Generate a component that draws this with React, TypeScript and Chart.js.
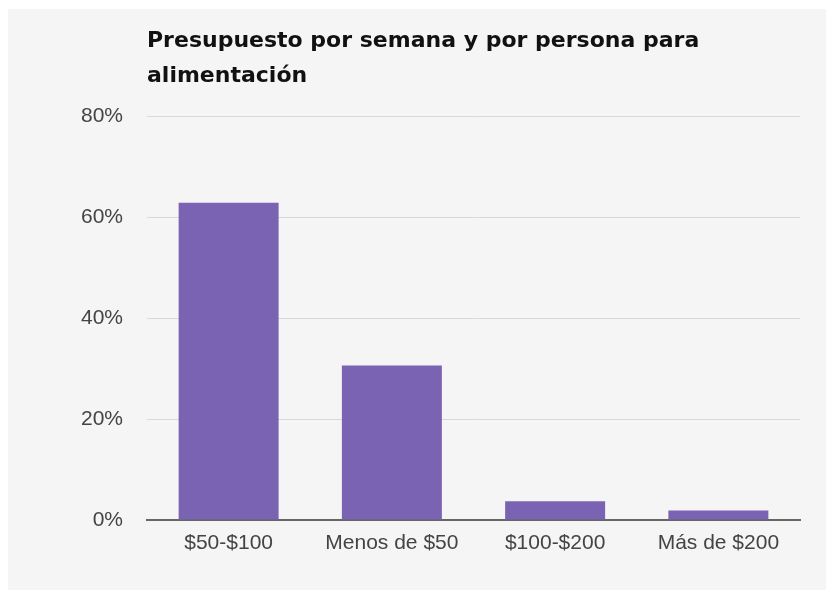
import React, { useEffect, useRef } from "react";
import { Chart, registerables } from "chart.js";

Chart.register(...registerables);

const titleLines = ["Presupuesto por semana y por persona para", "alimentación"];
const categories = ["$50-$100", "Menos de $50", "$100-$200", "Más de $200"];
const percentages = [62.8, 30.6, 3.7, 1.9];
const yTicks = [0, 20, 40, 60, 80];

const W = 818;
const H = 581;

const titlePlugin = {
  id: "leftTitle",
  afterDraw(chart: any) {
    const { ctx, chartArea } = chart;
    ctx.save();
    ctx.font = "bold 22px 'DejaVu Sans'";
    ctx.fillStyle = "#111111";
    ctx.textAlign = "left";
    ctx.textBaseline = "alphabetic";
    titleLines.forEach((line, i) => {
      ctx.fillText(line, chartArea.left, 38 + i * 35);
    });
    ctx.restore();
  },
};

export default function App() {
  const ref = useRef<HTMLCanvasElement | null>(null);

  useEffect(() => {
    if (!ref.current) return;
    const chart = new Chart(ref.current, {
      type: "bar",
      data: {
        labels: categories,
        datasets: [
          {
            data: percentages,
            backgroundColor: "#7b63b4",
            borderWidth: 0,
            categoryPercentage: 1,
            barPercentage: 0.6125,
          },
        ],
      },
      options: {
        responsive: false,
        animation: false,
        devicePixelRatio: 1,
        layout: { padding: { top: 107, right: 26, left: 0, bottom: 0 } },
        plugins: {
          legend: { display: false },
          tooltip: { enabled: false },
          title: { display: false },
        },
        scales: {
          x: {
            grid: { display: false, drawTicks: false },
            border: { display: true, color: "#666666", width: 2 },
            ticks: {
              color: "#444444",
              font: { family: "'Liberation Sans', Arial, sans-serif", size: 21 },
              padding: 11,
              maxRotation: 0,
              autoSkip: false,
            },
            afterFit(scale: any) {
              scale.height = 70;
            },
          },
          y: {
            min: 0,
            max: 80,
            afterBuildTicks(scale: any) {
              scale.ticks = yTicks.map((v) => ({ value: v }));
            },
            grid: {
              drawTicks: false,
              color: (c: any) => (c.tick && c.tick.value === 0 ? "rgba(0,0,0,0)" : "#d9d9d9"),
              lineWidth: 1,
            },
            border: { display: false },
            ticks: {
              color: "#444444",
              font: { family: "'Liberation Sans', Arial, sans-serif", size: 21 },
              padding: 24,
              callback: (v: any) => v + "%",
            },
            afterFit(scale: any) {
              scale.width = 139;
            },
          },
        },
      },
      plugins: [titlePlugin],
    });
    return () => chart.destroy();
  }, []);

  return (
    <div
      style={{
        position: "absolute",
        left: 0,
        top: 0,
        width: 826,
        height: 591,
        background: "#ffffff",
      }}
    >
      <div
        style={{
          position: "absolute",
          left: 8,
          top: 9,
          width: W,
          height: H,
          background: "#f5f5f5",
        }}
      >
        <canvas ref={ref} width={W} height={H} style={{ width: W, height: H, display: "block" }} />
      </div>
    </div>
  );
}
